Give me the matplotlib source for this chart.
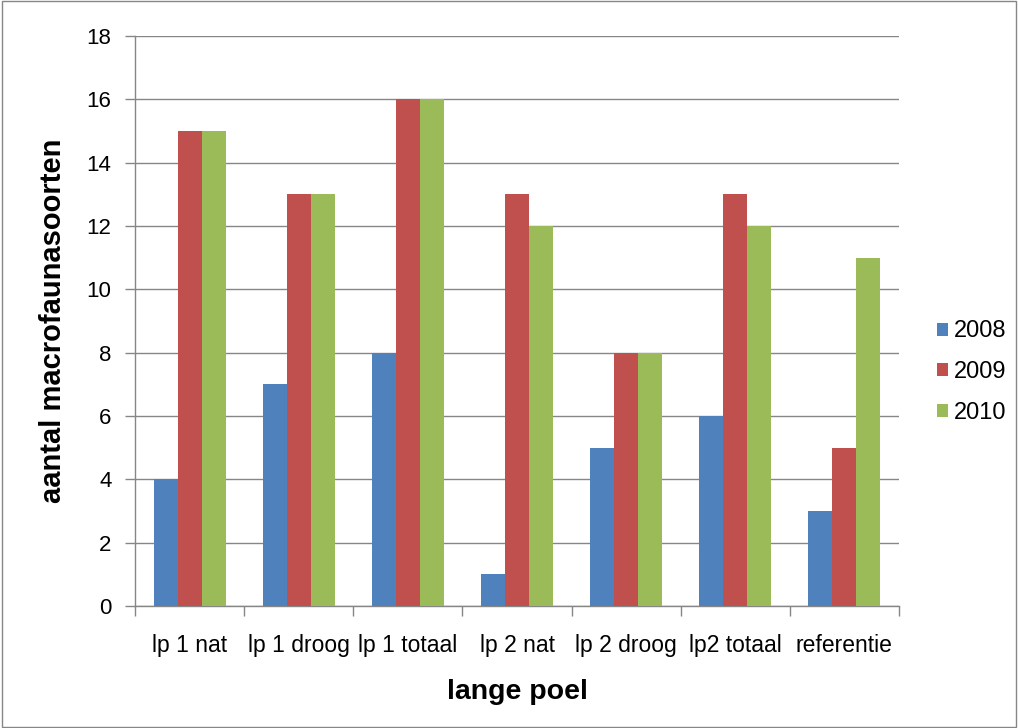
import matplotlib
matplotlib.use("Agg")
import matplotlib.pyplot as plt
import numpy as np
from matplotlib.patches import Rectangle

categories = ["lp 1 nat", "lp 1 droog", "lp 1 totaal", "lp 2 nat", "lp 2 droog", "lp2 totaal", "referentie"]
years = ["2008", "2009", "2010"]
v2008 = [4, 7, 8, 1, 5, 6, 3]
v2009 = [15, 13, 16, 13, 8, 13, 5]
v2010 = [15, 13, 16, 12, 8, 12, 11]
colors = ["#4F81BD", "#C0504D", "#9BBB59"]

plt.rcParams['font.family'] = ['Liberation Sans', 'DejaVu Sans']

fig = plt.figure(figsize=(10.18, 7.28), dpi=100)
ax = fig.add_axes([135/1018, 1-606/728, (899-135)/1018, (606-36)/728])

x = np.arange(len(categories))
w = 0.22
for i, (vals, c, lab) in enumerate(zip([v2008, v2009, v2010], colors, years)):
    ax.bar(x + (i-1)*w, vals, width=w, color=c, label=lab, zorder=3)

ax.set_xlim(-0.5, len(categories)-0.5)
ax.set_ylim(0, 18)
ax.set_yticks(range(0, 19, 2))
ax.yaxis.grid(True, color="#868686", linewidth=1, zorder=0)
ax.set_xticks(np.arange(-0.5, len(categories), 1.0), minor=False)
ax.set_xticklabels([])
ax.set_xticks(x, minor=True)
ax.set_xticklabels(categories, minor=True)
ax.tick_params(axis='x', which='minor', length=0, pad=20, labelsize=16.5)
ax.tick_params(axis='x', which='major', length=7, color="#868686", width=1)
ax.tick_params(axis='y', length=7, color="#868686", width=1, labelsize=16, pad=10)
for s in ["top", "right"]:
    ax.spines[s].set_visible(False)
for s in ["left", "bottom"]:
    ax.spines[s].set_color("#868686")
    ax.spines[s].set_linewidth(1)

ax.set_ylabel("aantal macrofaunasoorten", fontsize=21, fontweight="bold", labelpad=14)
ax.set_xlabel("lange poel", fontsize=20.5, fontweight="bold", labelpad=16)

leg = ax.legend(loc="center left", bbox_to_anchor=(1.0497, 0.41), frameon=False,
                fontsize=17, handlelength=0.47, handleheight=0.47, labelspacing=0.8,
                handletextpad=0.25, borderpad=0, borderaxespad=0)

fig.patches.append(Rectangle((0.002, 0.002), 0.996, 0.996, transform=fig.transFigure,
                             fill=False, edgecolor="#868686", linewidth=1))

fig.savefig("out.png", dpi=100)
